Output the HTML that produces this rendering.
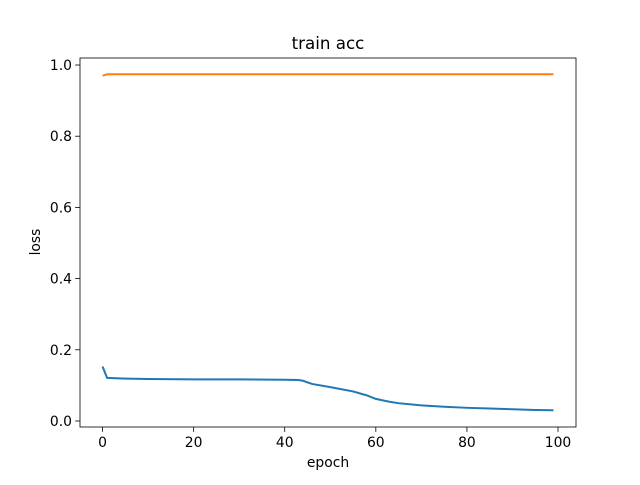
<!DOCTYPE html>
<html><head><meta charset="utf-8"><style>
body{margin:0;background:#fff;}
svg text{font-family:"DejaVu Sans","Liberation Sans",sans-serif;fill:#000;}
</style></head><body>
<svg id="chart" width="640" height="480">
<rect width="640" height="480" fill="#fff"/>
<text x="328" y="49" font-size="16.7" text-anchor="middle">train acc</text>
<g id="ticks"></g>
<g id="series"></g>
<rect x="80" y="58" width="496" height="369" fill="none" stroke="#000" stroke-width="0.8"/>
<text x="328" y="467" font-size="13.9" text-anchor="middle">epoch</text>
<text x="40" y="242" font-size="13.9" text-anchor="middle" transform="rotate(-90 40 242)">loss</text>
</svg>
<script>
const blueEpochs=[0,1,5,10,20,30,40,43,44,46,50,55,58,60,63,65,70,75,80,85,90,95,99];
const blueValues=[0.153,0.121,0.119,0.118,0.117,0.117,0.116,0.115,0.113,0.104,0.095,0.083,0.072,0.062,0.054,0.050,0.044,0.040,0.037,0.035,0.033,0.031,0.030];
const orangeEpochs=[0,1,10,50,99];
const orangeValues=[0.970,0.974,0.974,0.974,0.974];
const xTicks=[0,20,40,60,80,100];
const yTicks=[0.0,0.2,0.4,0.6,0.8,1.0];
const X0=80,X1=576,Y0=427,Y1=58,xmin=-4.95,xmax=103.95,ymin=-0.0169,ymax=1.0197;
function sx(v){return X0+(v-xmin)/(xmax-xmin)*(X1-X0);}
function sy(v){return Y0-(v-ymin)/(ymax-ymin)*(Y0-Y1);}
const NS="http://www.w3.org/2000/svg";
const tg=document.getElementById('ticks');
xTicks.forEach(t=>{
  const l=document.createElementNS(NS,'line');
  l.setAttribute('x1',sx(t));l.setAttribute('x2',sx(t));l.setAttribute('y1',Y0);l.setAttribute('y2',Y0+4.9);l.setAttribute('stroke','#000');l.setAttribute('stroke-width','0.8');
  
  
  tg.appendChild(l);
  const tx=document.createElementNS(NS,'text');
  tx.setAttribute('x',sx(t));tx.setAttribute('y',Y0+20);tx.setAttribute('font-size','13.9');tx.setAttribute('text-anchor','middle');tx.textContent=t;
  
  
  tg.appendChild(tx);
});
yTicks.forEach(t=>{
  const l=document.createElementNS(NS,'line');
  l.setAttribute('x1',X0-4.9);l.setAttribute('x2',X0);l.setAttribute('y1',sy(t));l.setAttribute('y2',sy(t));l.setAttribute('stroke','#000');l.setAttribute('stroke-width','0.8');
  
  
  tg.appendChild(l);
  const tx=document.createElementNS(NS,'text');
  tx.setAttribute('x',X0-8);tx.setAttribute('y',sy(t)+5);tx.setAttribute('font-size','13.9');tx.setAttribute('text-anchor','end');tx.textContent=t.toFixed(1);
  
  
  tg.appendChild(tx);
});
const sg=document.getElementById('series');
function line(xs,ys,color,name){
  const p=document.createElementNS(NS,'polyline');
  p.setAttribute('points',xs.map((x,i)=>sx(x)+','+sy(ys[i])).join(' '));
  p.setAttribute('fill','none');p.setAttribute('stroke',color);p.setAttribute('stroke-width','2');
  
  
  sg.appendChild(p);
}
line(blueEpochs,blueValues,'#1f77b4','loss-line');
line(orangeEpochs,orangeValues,'#ff7f0e','acc-line');
</script>
</body></html>
